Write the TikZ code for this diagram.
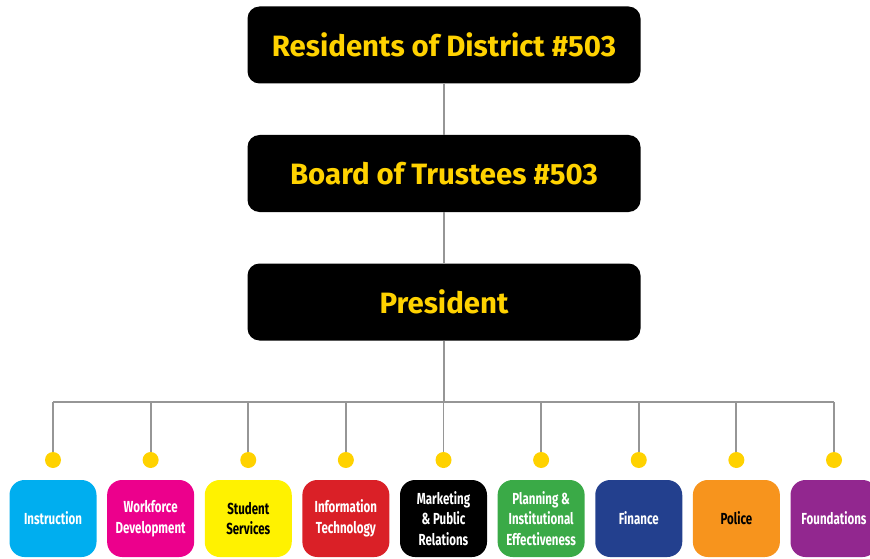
\documentclass[tikz,border=0pt]{standalone}
\usepackage{fontspec}
\setmainfont{Fira Sans}
\newfontfamily\narrowfont[FakeStretch=0.72]{Fira Sans}
\usetikzlibrary{positioning}

\definecolor{gold}{RGB}{255,210,0}
\definecolor{linegray}{RGB}{150,150,150}
\definecolor{instcol}{RGB}{0,174,239}
\definecolor{workcol}{RGB}{236,0,140}
\definecolor{studcol}{RGB}{255,242,0}
\definecolor{infocol}{RGB}{218,32,39}
\definecolor{markcol}{RGB}{0,0,0}
\definecolor{plancol}{RGB}{58,170,71}
\definecolor{fincol}{RGB}{35,64,142}
\definecolor{polcol}{RGB}{247,148,29}
\definecolor{fndcol}{RGB}{146,39,143}

\tikzset{
  head/.style={rectangle, rounded corners=12pt, fill=black, text=gold,
    minimum width=393pt, minimum height=77pt,
    font=\bfseries\fontsize{29.4}{32}\selectfont},
  dept/.style={rectangle, rounded corners=15pt, minimum width=87pt,
    minimum height=77pt, align=center, inner sep=1pt,
    font=\narrowfont\bfseries\fontsize{16}{20.5}\selectfont},
  knob/.style={circle, fill=gold, minimum size=16pt, inner sep=0pt},
  link/.style={draw=linegray, line width=1.8pt}
}

\begin{document}
\begin{tikzpicture}[x=1pt,y=-1pt,node distance=128.5pt,on grid]
  \useasboundingbox (0,0) rectangle (870,559);
  \node[head] (res) at (444,45) {Residents of District \#503};
  \node[head] (board) [below=of res] {Board of Trustees \#503};
  \node[head] (pres) [below=of board] {President};
  \coordinate (bus) at (444,402);

  \draw[link] (res) -- (board);
  \draw[link] (board) -- (pres);
  \draw[link] (pres) -- (bus);

  % departments
  \foreach \i/\fillc/\inkc/\txt in {
      1/instcol/white/Instruction,
      2/workcol/white/Workforce\\Development,
      3/studcol/black/Student\\Services,
      4/infocol/white/Information\\Technology,
      5/markcol/white/Marketing\\\& Public\\Relations,
      6/plancol/white/Planning \&\\Institutional\\Effectiveness,
      7/fincol/white/Finance,
      8/polcol/black/Police,
      9/fndcol/white/Foundations}{
    \node[knob] (k\i) at ({53+(\i-1)*97.625},460) {};
    \node[dept, fill=\fillc, text=\inkc] (d\i) at ({53+(\i-1)*97.625},518.5) {\txt};
    \draw[link] (k\i |- bus) -- (k\i);
  }
  \draw[link] (k1 |- bus) -- (k9 |- bus);
\end{tikzpicture}
\end{document}
